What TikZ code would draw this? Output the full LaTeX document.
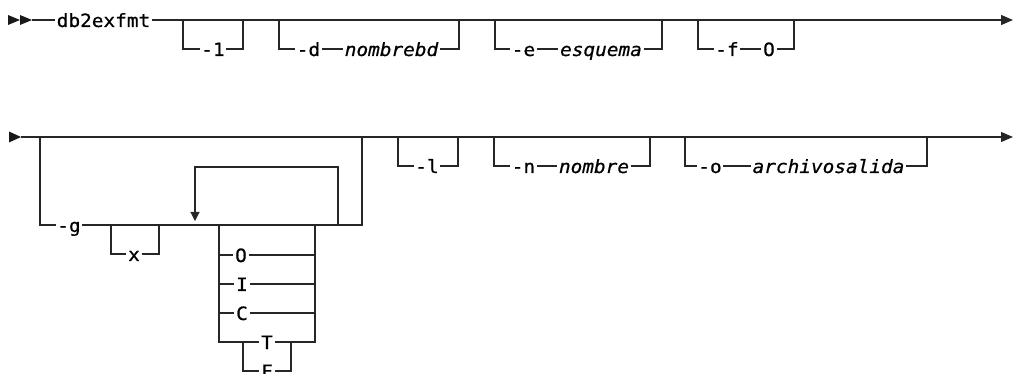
\documentclass[tikz,border=0pt]{standalone}
\usepackage{fontspec}
\usetikzlibrary{arrows.meta}
\newfontfamily\rrmono[FakeStretch=1.06,FakeBold=0.7]{DejaVu Sans Mono}
\begin{document}
\begin{tikzpicture}[x=1pt,y=-1pt,
  ln/.style={line width=1.1pt, draw=black!85},
  lb/.style={font=\rrmono\fontsize{18.3}{20}\selectfont, inner xsep=1.5pt, inner ysep=0pt, text height=14pt, text depth=0pt},
  it/.style={lb, font=\rrmono\itshape\fontsize{18.3}{20}\selectfont},
  tip/.style={-{Triangle[length=12pt,width=10pt]}},
  looptip/.style={-{Triangle[length=9pt,width=9pt]}},
  head/.style={fill=black!90}
]
\useasboundingbox (0,0) rectangle (1013,374);

% ---------- row 1 ----------
\fill[head] (8,15) -- (20,20) -- (8,25) -- cycle;
\fill[head] (20,15) -- (32,20) -- (20,25) -- cycle;
\coordinate (s1) at (32,20);
\coordinate (e1) at (1013,20);
\node[lb] (cmd) at (103.5,20) {db2exfmt};
\draw[ln,tip] (s1) -- (cmd) -- (e1);

% -1
\coordinate (a1) at (183,20); \coordinate (b1) at (243,20);
\node[lb] (one) at (213,49) {-1};
\draw[ln] (a1) |- (one) -| (b1);
% -d nombrebd
\coordinate (a2) at (279,20); \coordinate (b2) at (459,20);
\node[lb] (dopt) at (308.5,49) {-d};
\node[it] (nbd) at (391.5,49) {nombrebd};
\draw[ln] (a2) |- (dopt) -- (nbd) -| (b2);
% -e esquema
\coordinate (a3) at (495,20); \coordinate (b3) at (662,20);
\node[lb] (eopt) at (523.5,49) {-e};
\node[it] (esq) at (601,49) {esquema};
\draw[ln] (a3) |- (eopt) -- (esq) -| (b3);
% -f O
\coordinate (a4) at (698,20); \coordinate (b4) at (794,20);
\node[lb] (fopt) at (727,49) {-f};
\node[lb] (fO) at (769,49) {O};
\draw[ln] (a4) |- (fopt) -- (fO) -| (b4);

% ---------- row 2 ----------
\fill[head] (9,131.5) -- (21,137) -- (9,142.5) -- cycle;
\coordinate (s2) at (21,137);
\coordinate (e2) at (1013,137);
\draw[ln,tip] (s2) -- (e2);

% -g group
\coordinate (gL) at (40,137); \coordinate (gR) at (362,137);
\node[lb] (gopt) at (69,225) {-g};
\draw[ln] (gL) |- (gopt) -| (gR);
% x
\coordinate (xL) at (111,225); \coordinate (xR) at (159,225);
\node[lb] (xopt) at (134,254) {x};
\draw[ln] (xL) |- (xopt) -| (xR);
% repeat loop
\coordinate (lpB) at (338,225); \coordinate (lpBt) at (338,167);
\coordinate (lpT) at (195,221);
\draw[ln,looptip] (lpB) -- (lpBt) -| (lpT);
% choice
\coordinate (cL) at (219,225); \coordinate (cR) at (315,225);
\node[lb] (cO) at (241,255) {O};
\node[lb] (cI) at (242,284) {I};
\node[lb] (cC) at (242,313) {C};
\node[lb] (cT) at (267,342) {T};
\node[lb] (cF) at (267,371) {F};
\draw[ln] (cL) |- (cT);
\draw[ln] (cR) |- (cT);
\draw[ln] (cL |- cO) -- (cO) -- (cR |- cO);
\draw[ln] (cL |- cI) -- (cI) -- (cR |- cI);
\draw[ln] (cL |- cC) -- (cC) -- (cR |- cC);
\coordinate (fL) at (243,342); \coordinate (fR) at (291,342);
\draw[ln] (fL) |- (cF) -| (fR);

% -l
\coordinate (a5) at (398,137); \coordinate (b5) at (458,137);
\node[lb] (lopt) at (427,166) {-l};
\draw[ln] (a5) |- (lopt) -| (b5);
% -n nombre
\coordinate (a6) at (494,137); \coordinate (b6) at (650,137);
\node[lb] (nopt) at (523.5,166) {-n};
\node[it] (nom) at (594,166) {nombre};
\draw[ln] (a6) |- (nopt) -- (nom) -| (b6);
% -o archivosalida
\coordinate (a7) at (685,137); \coordinate (b7) at (927,137);
\node[lb] (oopt) at (710,166) {-o};
\node[it] (arch) at (828.5,166) {archivosalida};
\draw[ln] (a7) |- (oopt) -- (arch) -| (b7);
\end{tikzpicture}
\end{document}
